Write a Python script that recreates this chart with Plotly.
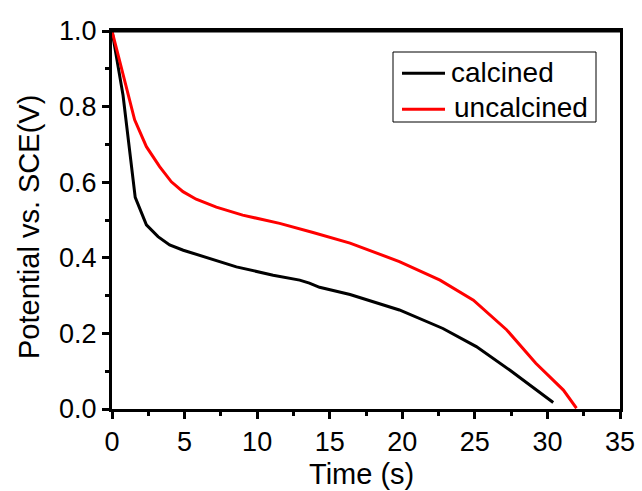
import plotly.graph_objects as go

calc_t = [0, 0.76, 1.6, 2.37, 3.17, 3.97, 4.91, 6.73, 8.57, 11.1, 12.93, 13.6, 14.3, 16.4, 19.8, 22.8, 25.1, 27.4, 29.2, 30.4]
calc_v = [1.0, 0.83, 0.56, 0.487, 0.456, 0.434, 0.42, 0.399, 0.376, 0.354, 0.341, 0.333, 0.322, 0.303, 0.262, 0.213, 0.165, 0.103, 0.05, 0.017]

uncalc_t = [0, 0.88, 1.56, 2.37, 3.28, 4.09, 4.89, 5.8, 7.19, 9.0, 11.55, 13.85, 16.4, 19.8, 22.6, 24.9, 27.2, 29.2, 31.1, 32.0]
uncalc_v = [1.0, 0.866, 0.765, 0.694, 0.641, 0.601, 0.575, 0.555, 0.534, 0.513, 0.491, 0.467, 0.439, 0.39, 0.341, 0.288, 0.209, 0.121, 0.05, 0.002]

series_names = ["calcined", "uncalcined"]
series_colors = ["black", "red"]

FONT = "Liberation Sans, Arial"
W, H = 642, 491
L, R, T, B = 112, 22, 31, 82
PW, PH = W - L - R, H - T - B


def px(x):
    return (x - L) / PW


def py(y):
    return (H - B - y) / PH


fig = go.Figure()
for name, color, t, v in zip(series_names, series_colors, [calc_t, uncalc_t], [calc_v, uncalc_v]):
    fig.add_trace(go.Scatter(x=t, y=v, mode="lines", name=name, showlegend=False,
                             line=dict(color=color, width=3)))

axis_common = dict(showline=True, linecolor="black", linewidth=3, mirror=True,
                   ticks="outside", ticklen=7, tickwidth=2.5, tickcolor="black",
                   showgrid=False, zeroline=False,
                   tickfont=dict(family=FONT, size=27, color="black"))

fig.update_xaxes(range=[0, 35], dtick=5, tick0=0,
                 minor=dict(dtick=2.5, ticks="outside", ticklen=4, tickwidth=2.5, tickcolor="black"),
                 **axis_common)
fig.update_yaxes(range=[0, 1.0], dtick=0.2, tick0=0, tickformat=".1f",
                 minor=dict(dtick=0.1, ticks="outside", ticklen=4, tickwidth=2.5, tickcolor="black"),
                 **axis_common)

annotations = [
    dict(text="Time (s)", x=px(361.5), y=py(474), xref="paper", yref="paper",
         xanchor="center", yanchor="middle", showarrow=False,
         font=dict(family=FONT, size=29, color="black")),
    dict(text="Potential vs. SCE(V)", x=px(29), y=py(227), xref="paper", yref="paper",
         xanchor="center", yanchor="middle", showarrow=False, textangle=-90,
         font=dict(family=FONT, size=29, color="black")),
]

# top edge of the frame and the legend box drawn as shapes
shapes = [dict(type="line", xref="paper", yref="paper", x0=0, x1=1, y0=1, y1=1,
               line=dict(color="black", width=3), layer="above"),
          dict(type="rect", xref="paper", yref="paper",
               x0=px(393), x1=px(596), y0=py(122), y1=py(52),
               line=dict(color="black", width=1), fillcolor="white", layer="above")]
leg_rows = [(73.3, 450, 72), (109.3, 453, 107.5)]
for (ly, tx, ty), name, color in zip(leg_rows, series_names, series_colors):
    shapes.append(dict(type="line", xref="paper", yref="paper",
                       x0=px(402), x1=px(445), y0=py(ly), y1=py(ly),
                       line=dict(color=color, width=3), layer="above"))
    annotations.append(dict(text=name, x=px(tx), y=py(ty), xref="paper", yref="paper",
                            xanchor="left", yanchor="middle", showarrow=False,
                            borderpad=0, font=dict(family=FONT, size=28, color="black")))

fig.update_layout(
    width=W, height=H,
    margin=dict(l=L, r=R, t=T, b=B, autoexpand=False),
    paper_bgcolor="white", plot_bgcolor="white",
    font=dict(family=FONT, color="black"),
    showlegend=False,
    shapes=shapes,
    annotations=annotations,
)

fig.write_html("out.html", config={"displayModeBar": False},
               post_script="document.body.style.margin='0';document.body.style.overflow='hidden';")
